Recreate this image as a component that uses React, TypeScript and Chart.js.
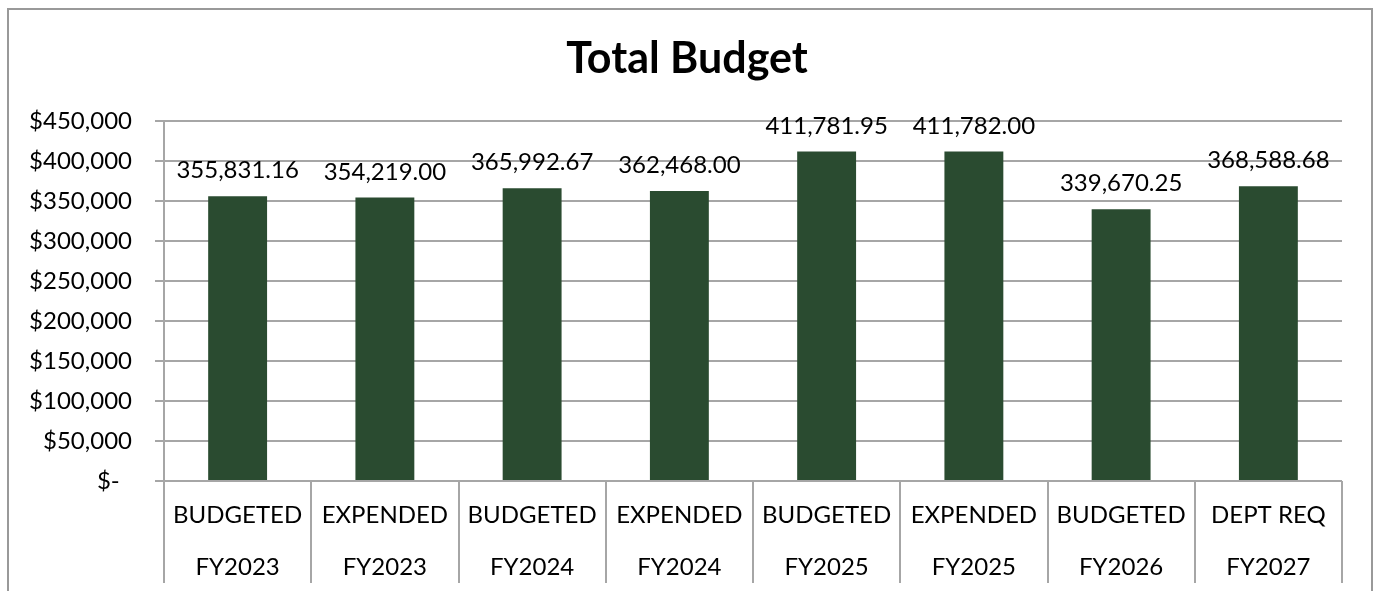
import React, { useEffect, useRef } from "react";
import { Chart, registerables } from "chart.js";

Chart.register(...registerables);

const TITLE = "Total Budget";
const STATUS_LABELS = ["BUDGETED", "EXPENDED", "BUDGETED", "EXPENDED", "BUDGETED", "EXPENDED", "BUDGETED", "DEPT REQ"];
const YEAR_LABELS = ["FY2023", "FY2023", "FY2024", "FY2024", "FY2025", "FY2025", "FY2026", "FY2027"];
const VALUES = [355831.16, 354219.0, 365992.67, 362468.0, 411781.95, 411782.0, 339670.25, 368588.68];
const Y_MIN = 0;
const Y_MAX = 450000;
const Y_STEP = 50000;

const FONT = "Lato, 'Open Sans', sans-serif";
const GRID = "#a6a6a6";
const BAR = "#2A4B30";

const decorPlugin = {
  id: "decor",
  afterDraw(chart: any) {
    const ctx = chart.ctx;
    const x = chart.scales.x;
    const area = chart.chartArea;
    ctx.save();
    // outer border
    ctx.strokeStyle = "#999999";
    ctx.lineWidth = 2;
    ctx.beginPath();
    ctx.moveTo(8, 591);
    ctx.lineTo(8, 9);
    ctx.lineTo(1372, 9);
    ctx.lineTo(1372, 591);
    ctx.stroke();

    // title
    ctx.fillStyle = "#000";
    ctx.font = `bold 43px ${FONT}`;
    ctx.textAlign = "center";
    ctx.textBaseline = "alphabetic";
    ctx.fillText(TITLE, 687, 73);

    // data labels
    ctx.font = `24px ${FONT}`;
    const meta = chart.getDatasetMeta(0);
    meta.data.forEach((bar: any, i: number) => {
      const v = VALUES[i];
      const txt = v.toLocaleString("en-US", { minimumFractionDigits: 2, maximumFractionDigits: 2 });
      ctx.fillText(txt, bar.x, bar.y - 18);
    });

    // x separators + labels
    const n = STATUS_LABELS.length;
    const cw = (area.right - area.left) / n;
    ctx.strokeStyle = GRID;
    ctx.lineWidth = 2;
    for (let i = 0; i <= n; i++) {
      const px = Math.round(area.left + i * cw);
      ctx.beginPath();
      ctx.moveTo(px, area.bottom);
      ctx.lineTo(px, 583);
      ctx.stroke();
    }
    ctx.fillStyle = "#000";
    ctx.font = `24px ${FONT}`;
    for (let i = 0; i < n; i++) {
      const cx = x.getPixelForValue(i);
      ctx.fillText(STATUS_LABELS[i], cx, 523);
      ctx.fillText(YEAR_LABELS[i], cx, 575);
    }
    ctx.restore();
  },
};

export default function App() {
  const ref = useRef<HTMLCanvasElement | null>(null);
  useEffect(() => {
    if (!ref.current) return;
    const chart = new Chart(ref.current, {
      type: "bar",
      data: {
        labels: STATUS_LABELS.map((s, i) => `${s} ${YEAR_LABELS[i]}`),
        datasets: [
          {
            data: VALUES,
            backgroundColor: BAR,
            borderWidth: 0,
            categoryPercentage: 1,
            barPercentage: 0.4,
          },
        ],
      },
      options: {
        animation: false,
        responsive: false,
        devicePixelRatio: 1,
        layout: { padding: { left: 0, right: 32, top: 121, bottom: 0 } },
        plugins: {
          legend: { display: false },
          title: { display: false },
          tooltip: { enabled: false },
        },
        scales: {
          x: {
            ticks: { display: false },
            grid: { display: false },
            border: { display: false },
            afterFit: (s: any) => {
              s.height = 110;
            },
          },
          y: {
            min: Y_MIN,
            max: Y_MAX,
            ticks: {
              stepSize: Y_STEP,
              color: "#000",
              padding: 23,
              font: { family: FONT, size: 24 },
              callback: (v: any) => (v === 0 ? "$-  " : "$" + Number(v).toLocaleString("en-US")),
            },
            grid: { color: GRID, lineWidth: 2, tickLength: 9, drawTicks: true },
            border: { display: true, color: GRID, width: 2 },
            afterFit: (s: any) => {
              s.width = 164;
            },
          },
        },
      },
      plugins: [decorPlugin],
    });
    return () => chart.destroy();
  }, []);
  return (
    <div style={{ position: "fixed", left: 0, top: 0, width: 1374, height: 591, background: "#fff" }}>
      <canvas ref={ref} width={1374} height={591} style={{ width: 1374, height: 591, display: "block" }} />
    </div>
  );
}
